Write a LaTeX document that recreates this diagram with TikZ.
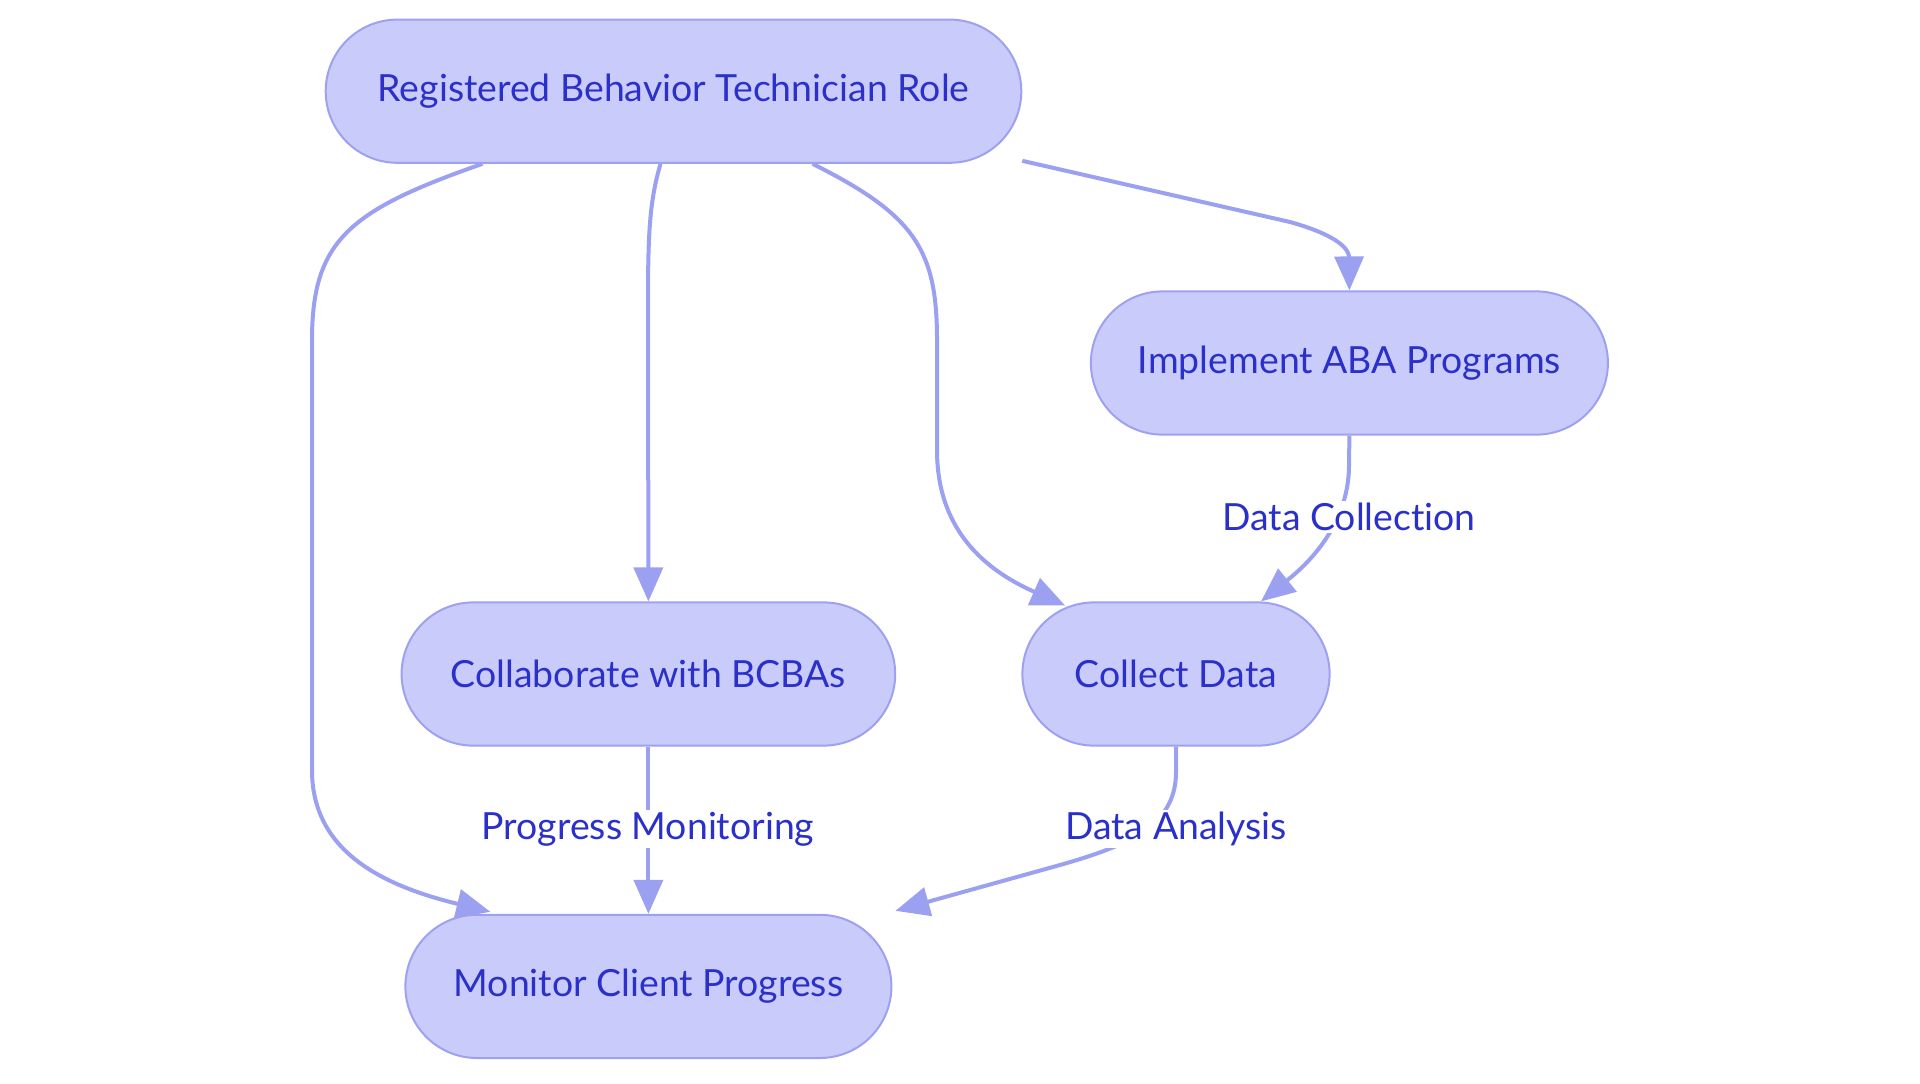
\documentclass[tikz,border=0pt]{standalone}
\usepackage{fontspec}
\setmainfont[Ligatures=NoCommon]{Lato}
\usepackage{tikz}
\usetikzlibrary{arrows.meta,calc}
\definecolor{boxfill}{HTML}{C9CBFB}
\definecolor{boxline}{HTML}{9DA1F0}
\definecolor{txtblue}{HTML}{2B30C9}
\definecolor{edgeblue}{HTML}{9CA0F1}

\begin{document}
\begin{tikzpicture}[x=0.5pt,y=-0.5pt,
    box/.style={draw=boxline,line width=1pt,fill=boxfill,text=txtblue,
        rounded corners=35.8pt,minimum height=71.6pt,inner sep=0pt,
        font=\fontsize{18.7}{22}\selectfont},
    edge/.style={draw=edgeblue,line width=2pt,-{Triangle[length=17pt,width=14.5pt]}},
    lbl/.style={fill=white,text=txtblue,inner sep=1pt,font=\fontsize{18.7}{22}\selectfont}]
        \useasboundingbox (0,0) rectangle (1920,1083);

        \node[box,minimum width=347.8pt] (role) at (673.5,91.2) {Registered Behavior Technician Role};
        \node[box,minimum width=258.5pt] (impl) at (1349.4,363) {Implement ABA Programs};
        \node[box,minimum width=246.8pt] (collab) at (648.4,674) {Collaborate with BCBAs};
        \node[box,minimum width=153.6pt] (collect) at (1176,674) {Collect Data};
        \node[box,minimum width=243pt] (monitor) at (648.4,986.4) {Monitor Client Progress};

        \draw[edge] ($(role.south)+(-191,0)$) .. controls (350,210) and (312,240) .. (312,340)
            -- (312,770) .. controls (312,850) and (380,885) .. ($(monitor.north)+(-158,-2)$);
        \draw[edge] ($(role.south)+(-13,0)$) .. controls (650,200) and (648,230) .. (648,300) -- (collab.north);
        \draw[edge] ($(role.south)+(139,0)$) .. controls (915,215) and (937,250) .. (937,340)
            -- (937,450) .. controls (937,530) and (985,570) .. ($(collect.north)+(-111,4)$);
        \draw[edge] ($(role.south east)+(0,-3)$) -- (1290,222) .. controls (1340,236) and (1349,250) .. (impl.north);
        \draw[edge] (impl.south) -- (1349,465) .. controls (1349,530) and (1300,570) .. ($(collect.north)+(85,0)$);
        \draw[edge] (collab.south) -- (monitor.north);
        \draw[edge] (collect.south) -- (1176,772) .. controls (1176,825) and (1130,845) .. (1060,865)
            -- ($(monitor.north east)+(3,-3)$);

        \node[lbl] (lcoll) at (1349,517) {Data Collection};
        \node[lbl] (lprog) at (648,829) {Progress Monitoring};
        \node[lbl] (lanal) at (1176,829) {Data Analysis};
\end{tikzpicture}
\end{document}
